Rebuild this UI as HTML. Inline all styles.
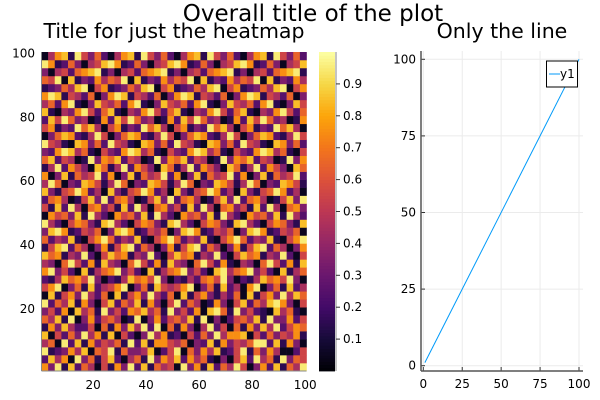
<!DOCTYPE html>
<html><head><meta charset="utf-8"><style>
html,body{margin:0;padding:0;background:#fff}
svg{display:block;font-family:"DejaVu Sans","Liberation Sans",sans-serif}
</style></head><body>
<svg id="chart" width="600" height="400" viewBox="0 0 600 400">
<text x="313" y="21" font-size="23" text-anchor="middle" fill="#000">Overall title of the plot</text>
<text x="174" y="38" font-size="20.5" text-anchor="middle" fill="#000">Title for just the heatmap</text>
<text x="502" y="38" font-size="20.5" text-anchor="middle" fill="#000">Only the line</text>
<g id="heat"></g>
<g id="cbar"></g>
<g id="line"></g>
</svg>
<script>
// heatmap data: rows bottom->top, digits 0-9 => value (d+0.5)/10
const heatRows = [
"7391826405173928164509371826495037281649",
"2847093615820461937582746103058294619365",
"9123748065916334802590637481259163740025",
"4609281735461928177546032817354699281730",
"8052639471805203947120526394778052635471",
"1738422506173849290617304925061738492576",
"6481903725640190372564819030256481933725",
"3527084619352768461935270896193521084610",
"9264817305826481730592640173058264897305",
"0815739426081573942608157314260815739486",
"5790361824579036185457903618240790361824",
"2148675930214867593021426759302148675930",
"7935208146793520814679352089467935208146",
"4306952718430695271843069527104306952718",
"8671439205867143920586714392058671439205",
"1589264037158926403715892640371589264037",
"6243810579624381057962438105796243810579",
"3897125460389712546038971254603897125460",
"9420576318942057631894205763189420576318",
"0756381942075638194207563819420756381942",
"5182940673518294067351829406735182940673",
"2674015839267401583926740158392674015839",
"8315697240831569724083156972408315697240",
"4960328751496032875149603287514960328751",
"7038164592703816459270381645927038164592",
"1492753086149275308614927530861492753086",
"6825401937682540193768254019376825401937",
"3279846105327984610532798461053279846105",
"9541087362954108736295410873629541087362",
"0368721495036872149503687214950368721495",
"5713296840571329684057132968405713296840",
"2859634017285963401728596340172859634017",
"8104379526810437952681043795268104379526",
"4627910385462791038546279103854627910385",
"7981542603798154260379815426037981542603",
"1236489057123648905712364890571236489057",
"6590813274659081327465908132746590813274",
"3045267891304526789130452678913045267891",
"9712630458971263045897126304589712630458",
"0478195362047819536204781953620478195362"
];
const heatXTicks = [20, 40, 60, 80, 100];
const heatYTicks = [20, 40, 60, 80, 100];
const cbarTicks = [0.1, 0.2, 0.3, 0.4, 0.5, 0.6, 0.7, 0.8, 0.9];
const lineX = [1, 100];
const lineY = [1, 100];
const lineXTicks = [0, 25, 50, 75, 100];
const lineYTicks = [0, 25, 50, 75, 100];

const NS = "http://www.w3.org/2000/svg";
function mk(tag, attrs, parent){ const e=document.createElementNS(NS,tag); for(const k in attrs) e.setAttribute(k,attrs[k]); parent.appendChild(e); return e; }

const inf = [[0,0,0,4],[0.1,22,11,57],[0.2,66,10,104],[0.3,106,23,110],[0.4,147,38,103],[0.5,188,55,84],[0.6,221,81,58],[0.7,243,118,27],[0.8,252,165,10],[0.9,246,215,70],[1,252,255,164]];
function cmap(v){ v=Math.max(0,Math.min(1,v)); for(let i=1;i<inf.length;i++){ if(v<=inf[i][0]){ const a=inf[i-1],b=inf[i],t=(v-a[0])/(b[0]-a[0]); return `rgb(${Math.round(a[1]+t*(b[1]-a[1]))},${Math.round(a[2]+t*(b[2]-a[2]))},${Math.round(a[3]+t*(b[3]-a[3]))})`; } } return "rgb(252,255,164)"; }

const hL=41.5,hR=306.5,hT=52,hB=371;
const hx = v => hL + (v-0.5)/100*(hR-hL);
const hy = v => hB - (v-0.5)/100*(hB-hT);
const heat=document.getElementById('heat');
const nR=heatRows.length, nC=heatRows[0].length;
const cw=(hR-hL)/nC, ch=(hB-hT)/nR;
heatRows.forEach((row,r)=>{ for(let c=0;c<nC;c++){ const v=(+row[c]+0.5)/10;
  const e=mk('rect',{x:(hL+c*cw).toFixed(2),y:(hB-(r+1)*ch).toFixed(2),width:(cw+0.3).toFixed(2),height:(ch+0.3).toFixed(2),fill:cmap(v)},heat);
  
  
}});
mk('line',{x1:hL,y1:hT,x2:hL,y2:hB,stroke:'#888','stroke-width':1},heat);
mk('line',{x1:hL,y1:hB,x2:hR,y2:hB,stroke:'#888','stroke-width':1},heat);
heatXTicks.forEach(t=>{ const e=mk('text',{x:hx(t),y:389,'font-size':12,'text-anchor':'middle',fill:'#000'},heat); e.textContent=t;
    });
heatYTicks.forEach(t=>{ const e=mk('text',{x:35,y:hy(t)+4,'font-size':12,'text-anchor':'end',fill:'#000'},heat); e.textContent=t;
    });

const cb=document.getElementById('cbar');
const cL=319,cR=335,cT=52,cB=371;
const cy = v => cB - v*(cB-cT);
for(let i=0;i<100;i++){ mk('rect',{x:cL,y:cy((i+1)/100),width:cR-cL,height:(cB-cT)/100+0.4,fill:cmap((i+0.5)/100)},cb); }
mk('line',{x1:cR+1,y1:cT,x2:cR+1,y2:cB,stroke:'#888','stroke-width':1},cb);
cbarTicks.forEach(t=>{ mk('line',{x1:cR+1,y1:cy(t),x2:cR+5,y2:cy(t),stroke:'#333','stroke-width':1},cb);
  const e=mk('text',{x:cR+8,y:cy(t)+4,'font-size':12,fill:'#000'},cb); e.textContent=t.toFixed(1);
    });

const lp=document.getElementById('line');
const lL=421,lR=583,lT=51,lB=371;
const lx = v => 423.3 + v/100*(579-423.3);
const ly = v => 365.7 - v/100*(365.7-59.3);
lineXTicks.forEach(t=>{ mk('line',{x1:lx(t),y1:lT,x2:lx(t),y2:lB,stroke:'#ebebeb','stroke-width':1},lp);
  mk('line',{x1:lx(t),y1:lB,x2:lx(t),y2:lB-4,stroke:'#333','stroke-width':1},lp);
  const e=mk('text',{x:lx(t),y:388,'font-size':12,'text-anchor':'middle',fill:'#000'},lp); e.textContent=t;
    });
lineYTicks.forEach(t=>{ mk('line',{x1:lL,y1:ly(t),x2:lR,y2:ly(t),stroke:'#ebebeb','stroke-width':1},lp);
  mk('line',{x1:lL,y1:ly(t),x2:lL+4,y2:ly(t),stroke:'#333','stroke-width':1},lp);
  const e=mk('text',{x:lL-5,y:ly(t)+4,'font-size':12,'text-anchor':'end',fill:'#000'},lp); e.textContent=t;
    });
mk('line',{x1:lL,y1:lT,x2:lL,y2:lB,stroke:'#555','stroke-width':1.5},lp);
mk('line',{x1:lL,y1:lB,x2:lR,y2:lB,stroke:'#555','stroke-width':1.5},lp);
const pl=mk('polyline',{points:lineX.map((x,i)=>lx(x)+','+ly(lineY[i])).join(' '),fill:'none',stroke:'#009af9','stroke-width':1},lp);


const lg=mk('g',{},lp);


mk('rect',{x:546.5,y:61,width:31,height:26,fill:'#fff',stroke:'#000','stroke-width':1},lg);
mk('line',{x1:549,y1:74,x2:560,y2:74,stroke:'#009af9','stroke-width':1},lg);
const lt=mk('text',{x:560,y:78,'font-size':12,fill:'#000'},lg); lt.textContent='y1';


</script>
</body></html>
